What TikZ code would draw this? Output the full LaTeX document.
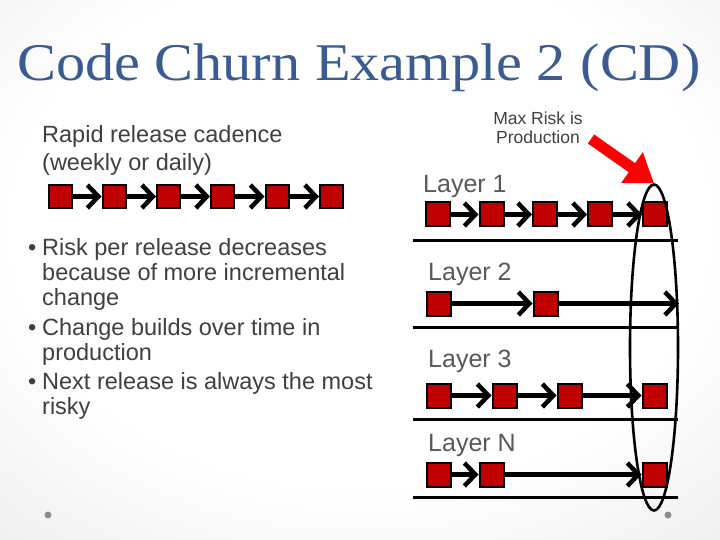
\documentclass[tikz,border=0pt]{standalone}
\usepackage{fontspec}
\setmainfont{Liberation Sans}
\newfontfamily\titlefont[FakeStretch=1.10]{Liberation Serif}
\usetikzlibrary{arrows.meta,shapes.geometric}
\definecolor{titleblue}{HTML}{3B5B93}
\definecolor{bodygray}{HTML}{404040}
\definecolor{layergray}{HTML}{595959}
\definecolor{boxred}{HTML}{C00000}
\pgfdeclareradialshading{slidebg}{\pgfpoint{0bp}{6bp}}{color(0bp)=(white); color(24bp)=(white); color(50bp)=(black!11); color(75bp)=(black!24)}
\begin{document}
\begin{tikzpicture}[x=1pt,y=-1pt,
  rel/.style={rectangle, draw=black, line width=2pt, fill=boxred, minimum size=24pt, inner sep=0pt},
  smallrel/.style={rel, minimum size=23pt},
  flow/.style={line width=4.5pt, -{Straight Barb[length=11pt,width=23pt]}},
  sepline/.style={line width=3pt},
  layerlabel/.style={anchor=base west, inner sep=0pt, font=\fontsize{25}{28}\selectfont, text=layergray},
  bodytext/.style={anchor=north west, inner sep=0pt, text=bodygray}]
\useasboundingbox (0,0) rectangle (720,540);
\shade[shading=slidebg] (0,0) rectangle (720,540);

% title
\node[anchor=base west, inner sep=0pt, font=\titlefont\fontsize{53}{56}\selectfont, text=titleblue] (title) at (17,81) {Code Churn Example 2 (CD)};

% left text
\node[bodytext, font=\fontsize{23.5}{28}\selectfont] (cadence) at (42,122.4)
  {\begin{tabular}{@{}l@{}}Rapid release cadence\\(weekly or daily)\end{tabular}};

\node[bodytext, font=\fontsize{23.5}{25}\selectfont] (bullets) at (28,237.5)
  {\begin{tabular}{@{}p{14pt}@{}l@{}}
   \textbullet & Risk per release decreases\\
   & because of more incremental\\
   & change\\[5pt]
   \textbullet & Change builds over time in\\
   & production\\[4pt]
   \textbullet & Next release is always the most\\
   & risky
  \end{tabular}};

% left chain
\node[smallrel] (c1) at (60,196.5) {};
\node[smallrel] (c2) at (114,196.5) {};
\node[smallrel] (c3) at (168.5,196.5) {};
\node[smallrel] (c4) at (222.5,196.5) {};
\node[smallrel] (c5) at (277,196.5) {};
\node[smallrel] (c6) at (331.5,196.5) {};
\draw[flow] (c1) -- (c2);
\draw[flow] (c2) -- (c3);
\draw[flow] (c3) -- (c4);
\draw[flow] (c4) -- (c5);
\draw[flow] (c5) -- (c6);

% max risk
\node[bodytext, anchor=north, font=\fontsize{17.5}{18.5}\selectfont] (maxrisk) at (538,111.5)
  {\begin{tabular}{@{}c@{}}Max Risk is\\Production\end{tabular}};

% layer labels
\node[layerlabel] (lay1) at (423,193) {Layer 1};
\node[layerlabel] (lay2) at (428,280) {Layer 2};
\node[layerlabel] (lay3) at (428,367) {Layer 3};
\node[layerlabel] (layn) at (428,451) {Layer N};

% layer 1
\node[rel] (a1) at (437.5,214.5) {};
\node[rel] (a2) at (491.5,214.5) {};
\node[rel] (a3) at (545,214.5) {};
\node[rel] (a4) at (600,214.5) {};
\node[rel] (a5) at (655,214.5) {};
\draw[flow] (a1) -- (a2);
\draw[flow] (a2) -- (a3);
\draw[flow] (a3) -- (a4);
\draw[flow] (a4) -- (a5);

% layer 2
\node[rel] (b1) at (438.5,303.5) {};
\node[rel] (b2) at (545.5,303.5) {};
\coordinate (bend) at (679,303.5);
\draw[flow] (b1) -- (b2);
\draw[flow] (b2) -- (bend);

% layer 3
\node[rel] (d1) at (438.5,395.5) {};
\node[rel] (d2) at (504.5,395.5) {};
\node[rel] (d3) at (569.5,395.5) {};
\node[rel] (d4) at (654.5,395.5) {};
\draw[flow] (d1) -- (d2);
\draw[flow] (d2) -- (d3);
\draw[flow] (d3) -- (d4);

% layer N
\node[rel] (n1) at (438.5,474.5) {};
\node[rel] (n2) at (491.5,474.5) {};
\node[rel] (n3) at (654.5,474.5) {};
\draw[flow] (n1) -- (n2);
\draw[flow] (n2) -- (n3);

% separator lines
\coordinate (s1a) at (413,240); \coordinate (s1b) at (678,240);
\coordinate (s2a) at (413,327); \coordinate (s2b) at (678,327);
\coordinate (s3a) at (413,419); \coordinate (s3b) at (678,419);
\coordinate (s4a) at (413,497); \coordinate (s4b) at (678,497);
\draw[sepline] (s1a) -- (s1b);
\draw[sepline] (s2a) -- (s2b);
\draw[sepline] (s3a) -- (s3b);
\draw[sepline] (s4a) -- (s4b);

% production ellipse
\node[ellipse, draw=black, line width=2.6pt, minimum width=48pt, minimum height=326pt, inner sep=0pt] (prod) at (654,347.5) {};

% red arrow
\coordinate (risktail) at (591,139);
\draw[draw=red, line width=11pt, -{Triangle[length=27pt,width=36pt]}] (risktail) -- (prod.north);

% slide dots
\fill[black!45] (48,515) circle (3.5pt);
\fill[black!45] (668,515) circle (3.5pt);
\end{tikzpicture}
\end{document}
